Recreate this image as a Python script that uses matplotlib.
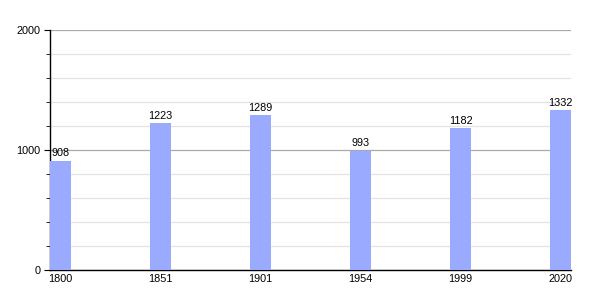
import numpy as np
import matplotlib.pyplot as plt
from matplotlib.ticker import MultipleLocator

years = ["1800", "1851", "1901", "1954", "1999", "2020"]
population = [908, 1223, 1289, 993, 1182, 1332]

plt.rcParams['font.family'] = ['Liberation Sans', 'DejaVu Sans']

fig = plt.figure(figsize=(6, 3), dpi=100)
ax = fig.add_axes([50 / 600, 30 / 300, 521 / 600, 240 / 300])

x = np.arange(len(years))
bar_w = 0.21
ax.bar(x, population, width=bar_w, align='edge', color='#99aaff', zorder=3)

# value labels above each bar
for xi, v in zip(x, population):
    ax.text(xi + bar_w / 2, v + 22, str(v), ha='center', va='bottom', fontsize=7.8, zorder=4)

ax.set_xlim(0, len(years) - 1 + bar_w)
ax.set_ylim(0, 2000)
ax.set_xticks(x + bar_w / 2)
ax.set_xticklabels(years, fontsize=7.8)
ax.tick_params(axis='x', length=0, pad=3)

ax.yaxis.set_major_locator(MultipleLocator(1000))
ax.yaxis.set_minor_locator(MultipleLocator(200))
ax.tick_params(axis='y', which='major', length=4, labelsize=7.8, pad=3)
ax.tick_params(axis='y', which='minor', length=3)
ax.grid(axis='y', which='major', color='#aaaaaa', linewidth=0.9, zorder=1)
ax.grid(axis='y', which='minor', color='#e3e3e3', linewidth=0.9, zorder=1)

for s in ['top', 'right']:
    ax.spines[s].set_visible(False)
ax.spines['left'].set_linewidth(1)
ax.spines['bottom'].set_linewidth(1)

fig.savefig('out.png', dpi=100)
